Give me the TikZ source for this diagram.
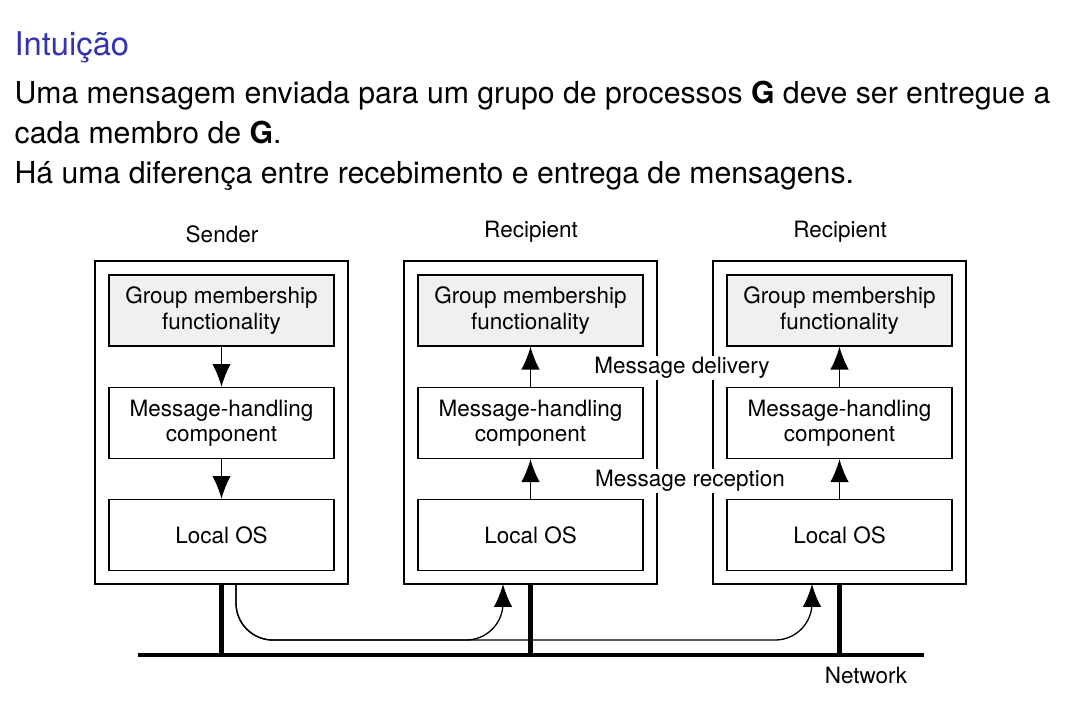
\documentclass[tikz,border=0pt]{standalone}
\usepackage{fontspec}
\setmainfont{TeX Gyre Heros}
\usetikzlibrary{arrows.meta}
\definecolor{titleblue}{rgb}{0.2,0.2,0.7}
\definecolor{boxgray}{gray}{0.94}

\begin{document}
\begin{tikzpicture}[x=0.02cm,y=-0.02cm,line width=0.75pt]
            \tikzstyle{outer box}=[draw,minimum width=5.06cm,minimum height=6.46cm]
            \tikzstyle{layer box}=[draw,minimum width=4.5cm,minimum height=1.42cm,align=center,font=\fontsize{12.8}{14.5}\selectfont]
            \tikzstyle{label}=[font=\fontsize{12.8}{14.5}\selectfont]
            \tikzstyle{slide}=[anchor=base west,inner sep=0,font=\fontsize{17.2}{21}\selectfont]
            \tikzstyle{msg}=[-{Latex[length=13pt,width=10.5pt]}]
            \tikzstyle{wire}=[line width=2.8pt]
            \useasboundingbox (0,0) rectangle (1069,718);
            % slide text
            \node[slide,text=titleblue,font=\fontsize{18.6}{22}\selectfont] (title) at (14,55) {Intuição};
            \node[slide] (line1) at (14,103) {Uma mensagem enviada para um grupo de processos \textbf{G} deve ser entregue a};
            \node[slide] (line2) at (14,143) {cada membro de \textbf{G}.};
            \node[slide] (line3) at (14,183) {Há uma diferença entre recebimento e entrega de mensagens.};
            % machines
            \foreach \n/\x in {s/95,a/404,b/713} {
                \node[outer box] (\n) at (\x+126.5,422.5) {};
                \node[layer box,fill=boxgray] (\n-group) at (\x+126.5,310.5) {Group membership\\functionality};
                \node[layer box] (\n-msg) at (\x+126.5,423) {Message-handling\\component};
                \node[layer box] (\n-os) at (\x+126.5,535) {Local OS};
            }
            \node[label] (sender) at (222,234) {Sender};
            \node[label] (recv a) at (531,232) {Recipient};
            \node[label] (recv b) at (840,232) {Recipient};
            % sending side
            \draw[msg] (s-group) -- (s-msg);
            \draw[msg] (s-msg) -- (s-os);
            % receiving side
            \foreach \n in {a,b} {
                \draw[msg] (\n-os) -- (\n-msg);
                \draw[msg] (\n-msg) -- (\n-group);
            }
            \node[label,fill=white,inner sep=1pt] (delivery) at (682,368) {Message delivery};
            \node[label,fill=white,inner sep=1pt] (reception) at (690,481) {Message reception};
            % network
            \coordinate (net west) at (138,655);
            \coordinate (net east) at (924,655);
            \draw[wire] (net west) -- (net east);
            \foreach \n in {s,a,b}
                \draw[wire] (\n.south) -- (\n.south |- net west);
            \node[label] (network) at (866,675) {Network};
            % message path
            \coordinate (out) at (236,584);
            \coordinate (in a) at (503,584);
            \coordinate (in b) at (812,584);
            \draw[msg,rounded corners=21pt] (out) |- (640,640) -| (in b);
            \draw[msg,rounded corners=21pt] (out) |- (400,640) -| (in a);
        \end{tikzpicture}
\end{document}
